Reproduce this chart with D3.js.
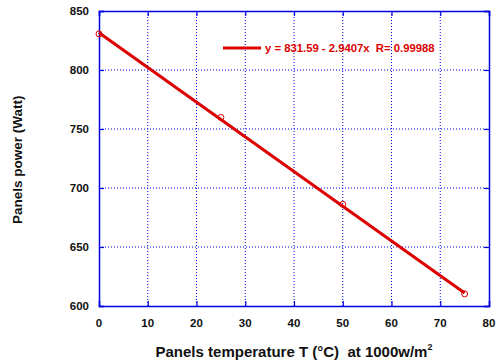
<!DOCTYPE html>
<html>
<head>
<meta charset="utf-8">
<script src="https://cdn.jsdelivr.net/npm/d3@7"></script>
<style>
  html, body { margin: 0; padding: 0; background: #fff; }
  svg { display: block; font-family: "Liberation Sans", Arial, sans-serif; }
  text { white-space: pre; }
</style>
</head>
<body>
<svg id="chart" width="496" height="361"></svg>
<script>
// Measured panel power vs. panel temperature at 1000 W/m²
const temperatures = [0, 25, 50, 75];
const powers = [830.6, 759.8, 686.2, 610.3];

// Linear fit shown in the legend
const fitIntercept = 831.59;
const fitSlope = -2.9407;
const fitR = 0.99988;

const xTicks = [0, 10, 20, 30, 40, 50, 60, 70, 80];
const yTicks = [600, 650, 700, 750, 800, 850];

const margin = { left: 99, right: 7, top: 11, bottom: 55 };
const W = 496, H = 361;
const svg = d3.select("#chart");

const x = d3.scaleLinear().domain([0, 80]).range([margin.left, W - margin.right]);
const y = d3.scaleLinear().domain([600, 850]).range([H - margin.bottom, margin.top]);

const blue = "#0000e0";
const red = "#dd0000";

// dotted grid
const grid = svg.append("g");
grid.selectAll("line.gx").data(xTicks.slice(1, -1)).join("line")
  .attr("x1", d => x(d)).attr("x2", d => x(d))
  .attr("y1", y(600)).attr("y2", y(850))
  .attr("stroke", blue).attr("stroke-width", 1).attr("stroke-dasharray", "1,2");
grid.selectAll("line.gy").data(yTicks.slice(1, -1)).join("line")
  .attr("y1", d => y(d)).attr("y2", d => y(d))
  .attr("x1", x(0)).attr("x2", x(80))
  .attr("stroke", blue).attr("stroke-width", 1).attr("stroke-dasharray", "1,2");

// axes with inward ticks on all four sides
const tl = 5;
const fmtNone = () => "";
const axB = svg.append("g").attr("transform", `translate(0,${y(600)})`)
  .call(d3.axisBottom(x).tickValues(xTicks).tickSize(-tl).tickFormat(fmtNone));
const axT = svg.append("g").attr("transform", `translate(0,${y(850)})`)
  .call(d3.axisTop(x).tickValues(xTicks).tickSize(-tl).tickFormat(fmtNone));
const axL = svg.append("g").attr("transform", `translate(${x(0)},0)`)
  .call(d3.axisLeft(y).tickValues(yTicks).tickSize(-tl).tickFormat(fmtNone));
const axR = svg.append("g").attr("transform", `translate(${x(80)},0)`)
  .call(d3.axisRight(y).tickValues(yTicks).tickSize(-tl).tickFormat(fmtNone));
[axB, axT, axL, axR].forEach(g => {
  g.select(".domain").attr("stroke", blue).attr("stroke-width", 1.5);
  g.selectAll(".tick line").attr("stroke", blue).attr("stroke-width", 1.2);
});

// tick labels
svg.append("g").selectAll("text").data(xTicks).join("text")
  .attr("x", d => x(d)).attr("y", y(600) + 21)
  .attr("text-anchor", "middle").attr("font-size", 11.5).attr("font-weight", "bold")
  .attr("fill", "#111").text(d => d);
svg.append("g").selectAll("text").data(yTicks).join("text")
  .attr("x", 89).attr("y", d => y(d) + 4)
  .attr("text-anchor", "end").attr("font-size", 11.5).attr("font-weight", "bold")
  .attr("fill", "#111").text(d => d);

// axis titles
const xt = svg.append("text")
  .attr("x", 294).attr("y", 357).attr("text-anchor", "middle")
  .attr("font-size", 15).attr("font-weight", "bold").attr("fill", "#111");
xt.append("tspan").text("Panels temperature T (°C)  at 1000w/m");
xt.append("tspan").attr("dy", -7).attr("font-size", 9).text("2");

svg.append("text")
  .attr("transform", `translate(22,${y(724)}) rotate(-90)`)
  .attr("text-anchor", "middle").attr("font-size", 13.5).attr("font-weight", "bold")
  .attr("fill", "#111").text("Panels power (Watt)");

// fitted line
const fit = t => fitIntercept + fitSlope * t;
svg.append("line")
  .attr("x1", x(0)).attr("y1", y(fit(0)))
  .attr("x2", x(75)).attr("y2", y(fit(75)))
  .attr("stroke", red).attr("stroke-width", 3);

// measured points
svg.append("g").selectAll("circle").data(temperatures.map((t, i) => [t, powers[i]])).join("circle")
  .attr("cx", d => x(d[0])).attr("cy", d => y(d[1])).attr("r", 3)
  .attr("fill", "none").attr("stroke", red).attr("stroke-width", 1);

// legend
svg.append("line").attr("x1", 223).attr("x2", 261).attr("y1", 48).attr("y2", 48)
  .attr("stroke", red).attr("stroke-width", 3);
svg.append("text").attr("x", 265).attr("y", 52)
  .attr("font-size", 11.3).attr("font-weight", "bold").attr("fill", red)
  .text(`y = ${fitIntercept} - ${Math.abs(fitSlope)}x  R= ${fitR}`);
</script>
</body>
</html>
